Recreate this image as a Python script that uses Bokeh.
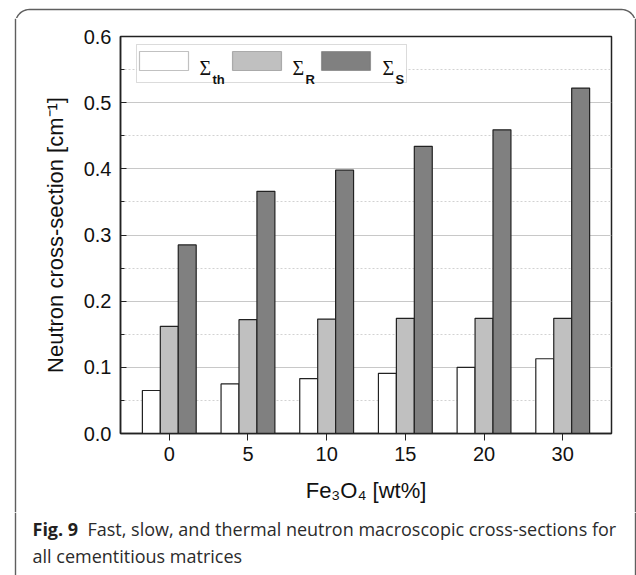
import math
from bokeh.plotting import figure
from bokeh.layouts import column, row
from bokeh.models import (FactorRange, ColumnDataSource, Label, BoxAnnotation,
                          FixedTicker, NumeralTickFormatter, Range1d)
from bokeh.transform import dodge
from bokeh.embed import file_html
from bokeh.resources import INLINE

# ---- data ----
categories = ["0", "5", "10", "15", "20", "30"]
sigma_th = [0.065, 0.075, 0.083, 0.091, 0.100, 0.113]
sigma_r = [0.162, 0.172, 0.173, 0.174, 0.174, 0.174]
sigma_s = [0.285, 0.366, 0.398, 0.434, 0.459, 0.522]
y_major_ticks = [0.0, 0.1, 0.2, 0.3, 0.4, 0.5, 0.6]
y_minor_ticks = [0.05, 0.15, 0.25, 0.35, 0.45, 0.55]
series_names = ["th", "R", "S"]
series_colors = ["#ffffff", "#c0c0c0", "#808080"]
x_label = "Fe\u2083O\u2084 [wt%]"
y_label = "Neutron cross-section [cm\u207b\u00b9]"
caption_bold = "Fig. 9"
caption_line1 = "Fast, slow, and thermal neutron macroscopic cross-sections for"
caption_line2 = "all cementitious matrices"

# ---- layout (canvas px) ----
W, H = 636, 575
TOP_H = 18          # top decoration strip
LEFT_W = 30         # left decoration strip
RIGHT_W = 11        # right decoration strip
MAIN_W = W - LEFT_W - RIGHT_W
MAIN_BOTTOM = 512
MAIN_H = MAIN_BOTTOM - TOP_H
BOT_H = H - MAIN_BOTTOM
FL, FR, FT, FB = 120, 611, 36, 433   # plot frame edges in canvas px
BX0, BY0, BX1, BR = 15, 9, 635, 14   # outer rounded border
BORDER_COL = "#5f5f5f"
BORDER_W = 1.4
CAP_FONT = "Open Sans"
CAP_SIZE = "18px"
CAP_BASE1, CAP_BASE2 = 528, 555


def strip(w, h):
    f = figure(width=w, height=h, x_range=Range1d(0, w), y_range=Range1d(h, 0),
               output_backend="svg", toolbar_location=None,
               x_axis_type=None, y_axis_type=None, frame_align=False,
               min_border=0, min_border_left=0, min_border_right=0,
               min_border_top=0, min_border_bottom=0,
               background_fill_color="white", border_fill_color="white")
    f.outline_line_color = None
    return f


# ---- main chart ----
src = ColumnDataSource(dict(cat=categories, th=sigma_th, r=sigma_r, s=sigma_s))

p = figure(x_range=FactorRange(*categories, range_padding=0.12, range_padding_units="absolute"),
           y_range=Range1d(0, 0.6), width=MAIN_W, height=MAIN_H,
           output_backend="svg", toolbar_location=None, frame_align=False,
           min_border_left=FL - LEFT_W, min_border_right=(W - RIGHT_W) - FR,
           min_border_top=FT - TOP_H, min_border_bottom=MAIN_BOTTOM - FB,
           background_fill_color="white", border_fill_color="white")

bw = 0.228
for key, off, col in zip(["th", "r", "s"], [-bw, 0.0, bw], series_colors):
    p.vbar(x=dodge("cat", off, range=p.x_range), top=key, width=bw, source=src,
           fill_color=col, line_color="#222222", line_width=1.2)

p.outline_line_color = "#222222"
p.outline_line_width = 1.5

p.yaxis.ticker = FixedTicker(ticks=y_major_ticks, minor_ticks=y_minor_ticks)
p.yaxis.formatter = NumeralTickFormatter(format="0.0")
for ax in (p.xaxis[0], p.yaxis[0]):
    ax.axis_line_color = "#222222"
    ax.axis_line_width = 1.5
    ax.major_tick_line_color = "#222222"
    ax.major_label_text_font = "Liberation Sans"
    ax.major_label_text_font_size = "20px"
    ax.major_label_text_color = "#111111"
    ax.axis_label_text_font = "Liberation Sans"
    ax.axis_label_text_font_size = "22px"
    ax.axis_label_text_font_style = "normal"
    ax.axis_label_text_color = "#111111"

p.yaxis.major_tick_in = 6
p.yaxis.major_tick_out = 0
p.yaxis.minor_tick_in = 4
p.yaxis.minor_tick_out = 0
p.yaxis.minor_tick_line_color = "#222222"
p.yaxis.major_label_standoff = 9
p.yaxis.axis_label = y_label
p.yaxis.axis_label_standoff = 13

p.xaxis.major_tick_in = 0
p.xaxis.major_tick_out = 7
p.xaxis.minor_tick_line_color = None
p.xaxis.major_label_standoff = 6
p.xaxis.axis_label = x_label
p.xaxis.axis_label_standoff = 14

p.xgrid.grid_line_color = None
p.ygrid.grid_line_color = "#c8c8c8"
p.ygrid.grid_line_width = 1
p.ygrid.minor_grid_line_color = "#d2d2d2"
p.ygrid.minor_grid_line_dash = "2 2"


def sx(x):
    return x - FL


def sy(y):
    return FB - y


# legend (manual, for sub-scripts)
p.add_layout(BoxAnnotation(left=sx(136), right=sx(406), bottom=sy(82), top=sy(44),
                           left_units="screen", right_units="screen",
                           bottom_units="screen", top_units="screen",
                           fill_color="white", fill_alpha=1.0,
                           line_color="#888888", line_width=1, level="annotation"))
sw_left = [139, 232, 321]
lab_left = [199, 292, 382]
for name, col, L, T in zip(series_names, series_colors, sw_left, lab_left):
    p.add_layout(BoxAnnotation(left=sx(L), right=sx(L + 49), bottom=sy(70), top=sy(51),
                               left_units="screen", right_units="screen",
                               bottom_units="screen", top_units="screen",
                               fill_color=col, fill_alpha=1.0,
                               line_color="#333333", line_width=1.2, level="annotation"))
    p.add_layout(Label(x=sx(T), y=sy(67), x_units="screen", y_units="screen",
                       text="\u03a3", text_font="Liberation Serif", text_font_size="20px",
                       text_color="#111111", text_baseline="alphabetic", text_align="left"))
    p.add_layout(Label(x=sx(T + 13), y=sy(79), x_units="screen", y_units="screen",
                       text=name, text_font="Liberation Sans", text_font_size="13px",
                       text_font_style="bold",
                       text_color="#111111", text_baseline="alphabetic", text_align="left"))

# ---- decoration strips: outer rounded border + caption ----
top = strip(W, TOP_H)
n = 12
bx, by = [BX0], [TOP_H]
for i in range(n + 1):
    a = math.pi + (math.pi / 2) * i / n
    bx.append(BX0 + BR + BR * math.cos(a)); by.append(BY0 + BR + BR * math.sin(a))
for i in range(n + 1):
    a = 1.5 * math.pi + (math.pi / 2) * i / n
    bx.append(BX1 - BR + BR * math.cos(a)); by.append(BY0 + BR + BR * math.sin(a))
bx.append(BX1); by.append(TOP_H)
top.line(bx, by, line_color=BORDER_COL, line_width=BORDER_W)

left = strip(LEFT_W, MAIN_H)
left.line([BX0, BX0], [0, MAIN_H], line_color=BORDER_COL, line_width=BORDER_W)

right = strip(RIGHT_W, MAIN_H)
right.line([BX1 - (W - RIGHT_W), BX1 - (W - RIGHT_W)], [0, MAIN_H],
           line_color=BORDER_COL, line_width=BORDER_W)

bot = strip(W, BOT_H)
bot.line([BX0, BX0], [0, BOT_H], line_color=BORDER_COL, line_width=BORDER_W)
bot.line([BX1, BX1], [0, BOT_H], line_color=BORDER_COL, line_width=BORDER_W)
y0 = MAIN_BOTTOM
bot.add_layout(Label(x=32, y=CAP_BASE1 - y0, text=caption_bold, text_font=CAP_FONT,
                     text_font_style="bold", text_font_size=CAP_SIZE, text_color="#231f20",
                     text_baseline="alphabetic"))
bot.add_layout(Label(x=87, y=CAP_BASE1 - y0, text=caption_line1, text_font=CAP_FONT,
                     text_font_size=CAP_SIZE, text_color="#2b2b2b", text_baseline="alphabetic"))
bot.add_layout(Label(x=32, y=CAP_BASE2 - y0, text=caption_line2, text_font=CAP_FONT,
                     text_font_size=CAP_SIZE, text_color="#2b2b2b", text_baseline="alphabetic"))

layout = column(top, row(left, p, right), bot)
open("out.html", "w").write(file_html(layout, INLINE))
